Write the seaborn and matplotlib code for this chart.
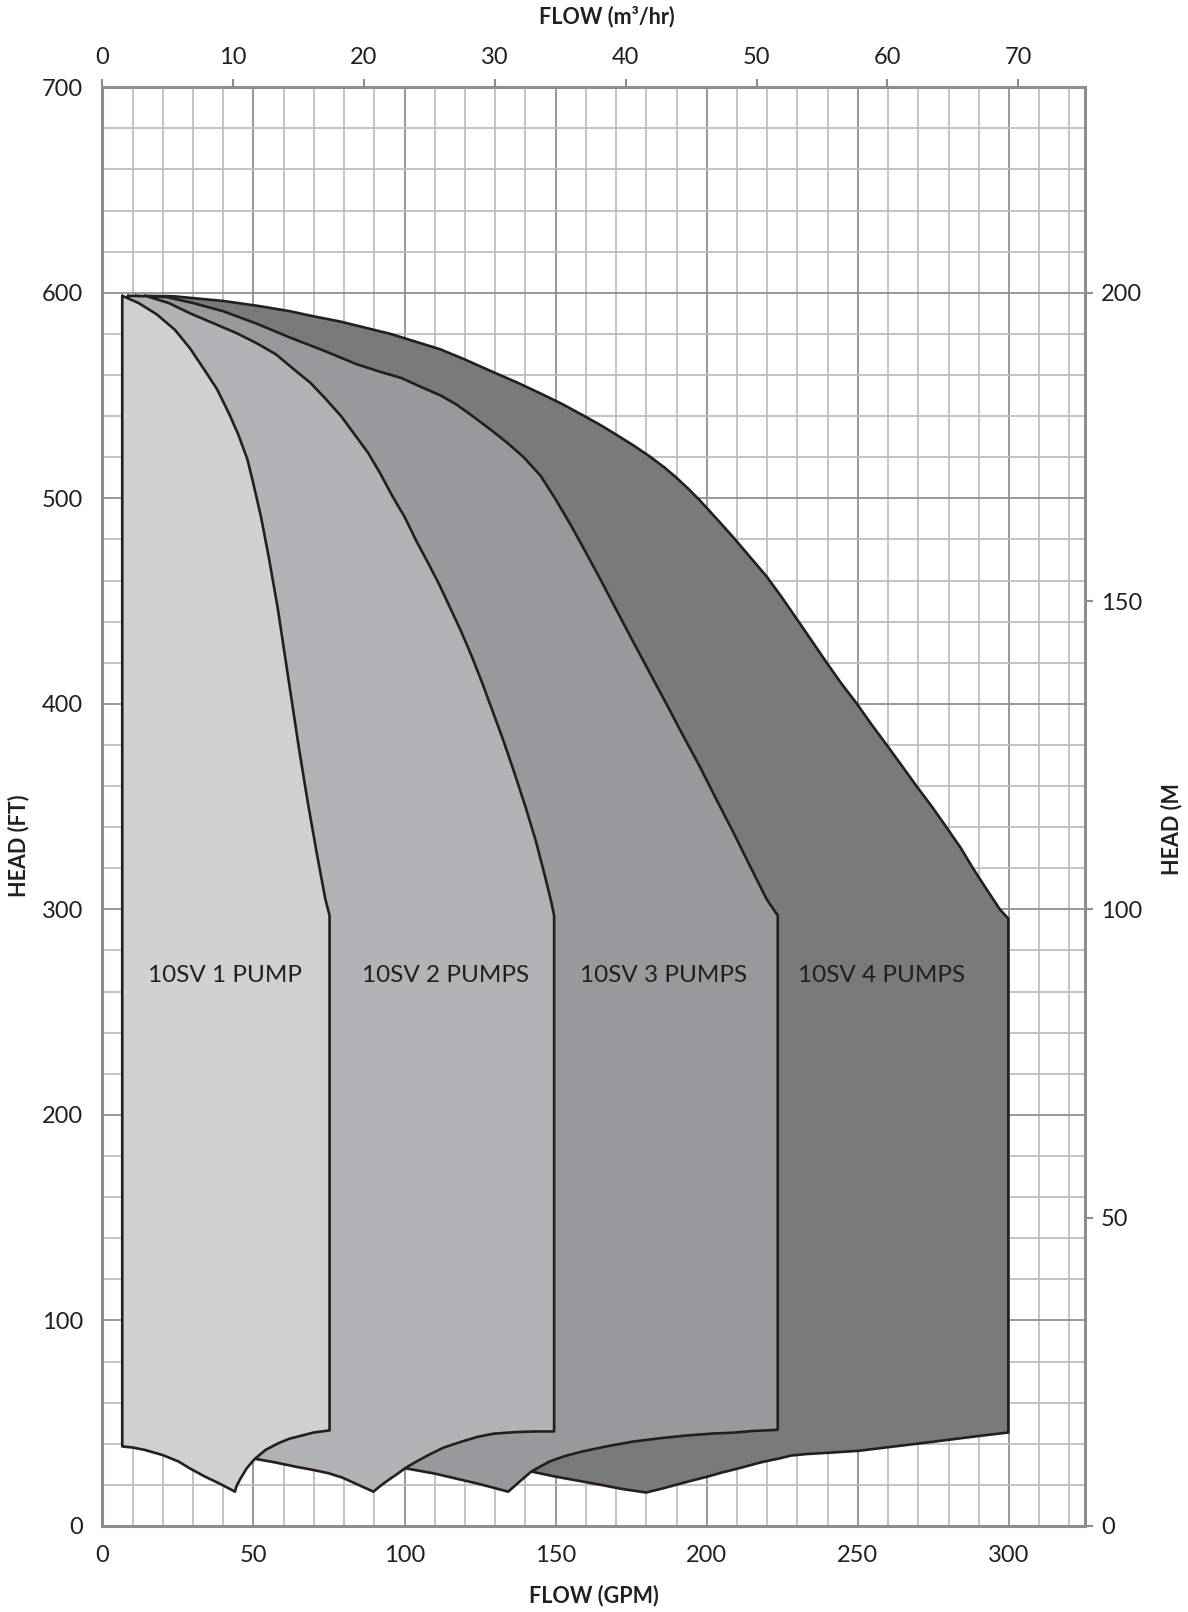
"""
10SV pump family chart: head (ft / m) versus flow (GPM / m3/hr) for
1 to 4 pumps in parallel, drawn as stacked filled operating regions.
"""

import numpy as np
import pandas as pd
import matplotlib
matplotlib.use("Agg")
import matplotlib.pyplot as plt
from matplotlib.ticker import MultipleLocator
import seaborn as sns

# ---------------------------------------------------------------------------
# Data - GPM and FT
# Each region: top curve left->right, right edge, bottom curve right->left.
# ---------------------------------------------------------------------------
PUMP_LABELS = ["10SV 1 PUMP", "10SV 2 PUMPS", "10SV 3 PUMPS", "10SV 4 PUMPS"]

P1_GPM = [6.6, 12, 18, 24, 29, 34, 38, 42, 45, 48, 50, 52.5, 55, 58, 61.5,
          65, 68, 71, 73.8, 75.2,
          75.2, 70, 66, 62, 58.3, 54, 50.5, 47.8, 45.5, 44.3, 43.9, 39, 34,
          29, 25.2, 20, 14.1, 10, 6.6]
P1_FT = [598.5, 595, 589.5, 582, 573, 562, 553, 541, 531, 519, 507, 491, 472,
         447, 413, 379, 352, 327, 305, 297,
         46.5, 45.5, 44, 42.5, 40.3, 37, 32.7, 28.1, 22.5, 19, 16.7, 20.5, 24,
         28, 31.4, 34.5, 37, 38.2, 38.7]

P2_GPM = [8.5, 14.7, 22, 29, 37, 44.5, 51, 57.5, 64, 69, 73.5, 79, 84, 88,
          92, 96, 100, 104, 108, 111.5, 115, 118.5, 122, 125.5, 129, 132.5,
          136, 140, 143.5, 146.5, 148.5, 149.5,
          149.5, 143, 137.1, 133, 129.4, 124, 119, 113, 108, 103.5, 100.2,
          97.5, 94.7, 92, 89.7, 84, 79.5, 74.8, 69, 63.8, 57, 50.5]
P2_FT = [598.5, 598.3, 595, 590, 585, 580.3, 575.5, 570, 562, 556, 549, 540,
         530, 522, 512, 501, 491, 479, 468, 458, 447, 436, 424, 411, 397,
         383, 368, 350, 333, 316, 304, 297,
         46, 46, 45.7, 45.3, 44.9, 43.3, 41.1, 38.2, 34.6, 31, 28.1,
         25.2, 22.4, 19.5, 16.7, 20.5, 23.5, 25.7, 27.5, 28.9, 31, 32.7]

P3_GPM = [11, 21.3, 30, 40, 51, 62.1, 73, 84.2, 92, 99, 106.5, 112, 117.3,
          122.5, 128.4, 134, 139.4, 145, 150, 155, 159.5, 165, 170, 175, 181,
          187, 192, 197.7, 203, 208.8, 214, 219.8, 223.5,
          223.5, 215, 208.8, 202, 192.3, 184, 175.7, 167, 159, 153, 148, 145,
          142, 138, 134.3, 130, 124.5, 119, 110, 100.2]
P3_FT = [598.5, 597.9, 595, 591, 585, 578.2, 572, 565.2, 561.5, 558.5, 553.5,
         550, 545.5, 540, 533.5, 527, 520, 511, 499.5, 487, 475, 460, 446,
         432, 415.5, 399, 385, 369.5, 354, 337.5, 322, 305, 297,
         46.8, 46.2, 45.4, 45, 43.9, 42.6, 41.1, 38.8, 36.3, 34, 31.4, 29,
         26.5, 21.5, 16.7, 18.4, 20.5, 22.4, 25.5, 28.1]

P4_GPM = [14, 23.5, 40, 52, 62.1, 70, 78.7, 87, 95.3, 103, 111.8, 120, 128.4,
          137, 145, 152, 159.5, 165, 170, 176, 181, 186, 190, 194, 197.7, 203,
          208.8, 214, 219.8, 225, 229.7, 234.5, 239.6, 244.5, 249.6, 254.5,
          259.5, 264.5, 269.4, 274.5, 279.3, 284, 288.1, 292.5, 297, 299.8,
          299.8, 289, 275, 260.4, 250.4, 242, 233.1, 228, 224.4, 218, 210.7,
          205, 200.2, 193, 186, 180, 172, 165, 159, 150, 142]
P4_FT = [598.5, 598.3, 596, 593.5, 591, 588.5, 586, 583, 580, 576.5, 572.5,
         567.5, 562, 556.5, 551, 546, 540, 535.5, 531, 525.5, 520.5, 515, 510,
         504.5, 499, 490.5, 481, 472, 462, 451.5, 441.5, 431.2, 420.2, 410,
         400.2, 390, 380.1, 370, 360, 350, 340, 330, 320, 310, 300, 295.5,
         45.5, 43.6, 41, 38.4, 36.6, 35.8, 35, 34.3, 33, 31, 28.1,
         26, 24, 21.3, 18.5, 16.3, 18, 20, 21.6, 24, 26.5]

REGIONS = [(P1_GPM, P1_FT), (P2_GPM, P2_FT), (P3_GPM, P3_FT), (P4_GPM, P4_FT)]
FILL_COLORS = ["#cfd0d2", "#b1b2b5", "#98999c", "#797a7c"]
LABEL_GPM = [40.6, 113.5, 185.6, 257.8]
LABEL_FT = 268

M3H_TICKS = [0, 10, 20, 30, 40, 50, 60, 70]
M_TICKS = [0, 50, 100, 150, 200]
GPM_PER_M3H = 4.33   # as drawn on the chart's top scale
FT_PER_M = 3.0       # as drawn on the chart's right scale

# long table for seaborn
rows = []
for label, (gx, hy) in zip(PUMP_LABELS, REGIONS):
    gx = list(gx) + [gx[0]]
    hy = list(hy) + [hy[0]]
    for i, (g, h) in enumerate(zip(gx, hy)):
        rows.append({"pump": label, "order": i, "gpm": g, "head": h})
df = pd.DataFrame(rows)

# ---------------------------------------------------------------------------
# Plot
# ---------------------------------------------------------------------------
sns.set_theme(style="white")
plt.rcParams["font.family"] = ["Lato", "DejaVu Sans"]

W, H = 1188, 1612
fig = plt.figure(figsize=(W / 100, H / 100), dpi=100)
ax = fig.add_axes([102.3 / W, 1 - 1526 / H, (1084.5 - 102.3) / W,
                   (1526 - 87.2) / H])

GRID_MINOR = "#bdbec0"
GRID_MAJOR = "#8f9092"
SPINE = "#8c8d8f"
INK = "#231f20"

ax.set_xlim(0, 325)
ax.set_ylim(0, 700)
ax.xaxis.set_major_locator(MultipleLocator(50))
ax.xaxis.set_minor_locator(MultipleLocator(10))
ax.yaxis.set_major_locator(MultipleLocator(100))
ax.yaxis.set_minor_locator(MultipleLocator(20))
ax.set_axisbelow(True)
ax.grid(which="minor", color=GRID_MINOR, lw=1.3)
ax.grid(which="major", color=GRID_MAJOR, lw=1.3)

# draw back (4 pumps) to front (1 pump)
for k in range(3, -1, -1):
    sub = df[df["pump"] == PUMP_LABELS[k]]
    z = 2 + (3 - k) * 2
    ax.fill(sub["gpm"], sub["head"], color=FILL_COLORS[k], lw=0, zorder=z)
    sns.lineplot(data=sub, x="gpm", y="head", sort=False, estimator=None,
                 color=INK, lw=1.9, ax=ax, zorder=z + 1, legend=False,
                 solid_joinstyle="round")
    ax.text(LABEL_GPM[k], LABEL_FT, PUMP_LABELS[k], ha="center", va="center",
            fontsize=17.5, color=INK, zorder=20)

ax.set_xlabel("")
ax.set_ylabel("")
for s in ax.spines.values():
    s.set_color(SPINE)
    s.set_linewidth(2.2)
    s.set_zorder(30)

ax.tick_params(which="major", length=6, width=1.5, color=SPINE,
               labelsize=17, labelcolor=INK)
ax.tick_params(axis="y", which="major", pad=8)
ax.tick_params(axis="x", which="major", pad=8)
ax.tick_params(which="minor", length=0)

top = ax.secondary_xaxis("top", functions=(lambda g: g / GPM_PER_M3H,
                                           lambda m: m * GPM_PER_M3H))
top.set_xticks(M3H_TICKS)
top.tick_params(length=6, width=1.5, color=SPINE, labelsize=17,
                labelcolor=INK, pad=8)
top.spines["top"].set_visible(False)

right = ax.secondary_yaxis("right", functions=(lambda f: f / FT_PER_M,
                                               lambda m: m * FT_PER_M))
right.set_yticks(M_TICKS)
right.tick_params(length=6, width=1.5, color=SPINE, labelsize=17,
                  labelcolor=INK, pad=6)
right.spines["right"].set_visible(False)

# axis titles
fig.text(607 / W, 1 - 16.5 / H, "FLOW (m³/hr)", ha="center", va="center",
         fontsize=15.5, fontweight="bold", color=INK)
fig.text(594 / W, 1 - 1596 / H, "FLOW (GPM)", ha="center", va="center",
         fontsize=15.5, fontweight="bold", color=INK)
fig.text(18.5 / W, 1 - 846 / H, "HEAD (FT)", ha="center", va="center",
         rotation=90, fontsize=15.5, fontweight="bold", color=INK)
fig.text(1171.6 / W, 1 - 829 / H, "HEAD (M", ha="center", va="center",
         rotation=90, fontsize=15.5, fontweight="bold", color=INK)

fig.savefig("out.png", dpi=100)
